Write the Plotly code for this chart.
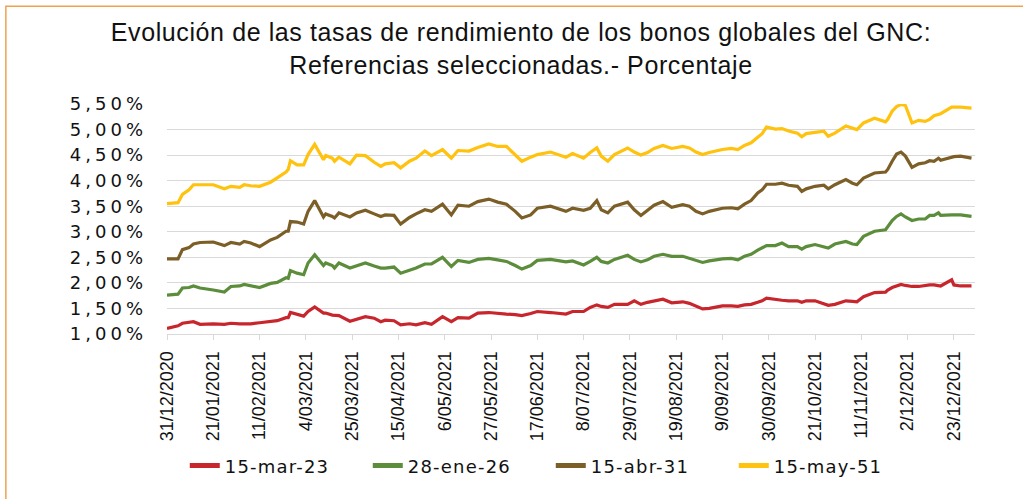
import pandas as pd
import plotly.graph_objects as go

dates = [
    "2020-12-31", "2021-01-05", "2021-01-07", "2021-01-10", "2021-01-12", "2021-01-15",
    "2021-01-21", "2021-01-26", "2021-01-29", "2021-02-02", "2021-02-04", "2021-02-07",
    "2021-02-11", "2021-02-16", "2021-02-19", "2021-02-23", "2021-02-24", "2021-02-25",
    "2021-02-28", "2021-03-03", "2021-03-05", "2021-03-08", "2021-03-12", "2021-03-13",
    "2021-03-16", "2021-03-17", "2021-03-19", "2021-03-24", "2021-03-27", "2021-03-31",
    "2021-04-04", "2021-04-07", "2021-04-09", "2021-04-13", "2021-04-16", "2021-04-20",
    "2021-04-23", "2021-04-27", "2021-04-30", "2021-05-05", "2021-05-09", "2021-05-12",
    "2021-05-17", "2021-05-21", "2021-05-26", "2021-05-30", "2021-06-03", "2021-06-07",
    "2021-06-10", "2021-06-14", "2021-06-17", "2021-06-23", "2021-06-30", "2021-07-03",
    "2021-07-08", "2021-07-11", "2021-07-14", "2021-07-16", "2021-07-19", "2021-07-22",
    "2021-07-28", "2021-07-31", "2021-08-03", "2021-08-06", "2021-08-09", "2021-08-13",
    "2021-08-17", "2021-08-22", "2021-08-25", "2021-08-28", "2021-08-31", "2021-09-03",
    "2021-09-09", "2021-09-13", "2021-09-16", "2021-09-19", "2021-09-22", "2021-09-25",
    "2021-09-27", "2021-09-29", "2021-10-03", "2021-10-06", "2021-10-09", "2021-10-13",
    "2021-10-15", "2021-10-17", "2021-10-21", "2021-10-25", "2021-10-27", "2021-10-30",
    "2021-11-04", "2021-11-07", "2021-11-09", "2021-11-12", "2021-11-17", "2021-11-22",
    "2021-11-23", "2021-11-25", "2021-11-27", "2021-11-29", "2021-12-01", "2021-12-04",
    "2021-12-07", "2021-12-10", "2021-12-12", "2021-12-14", "2021-12-16", "2021-12-17",
    "2021-12-22", "2021-12-23", "2021-12-26", "2021-12-31",
]

may51 = [
    3.55, 3.57, 3.73, 3.82, 3.92, 3.92, 3.92, 3.84, 3.89, 3.87, 3.92, 3.90,
    3.89, 3.97, 4.05, 4.17, 4.22, 4.39, 4.31, 4.31, 4.51, 4.71, 4.41, 4.49,
    4.44, 4.38, 4.46, 4.33, 4.50, 4.49, 4.36, 4.28, 4.33, 4.35, 4.25, 4.38,
    4.44, 4.58, 4.49, 4.61, 4.44, 4.59, 4.58, 4.65, 4.72, 4.67, 4.67, 4.51,
    4.38, 4.46, 4.51, 4.56, 4.46, 4.53, 4.44, 4.55, 4.64, 4.48, 4.38, 4.51,
    4.64, 4.56, 4.50, 4.55, 4.63, 4.69, 4.63, 4.67, 4.64, 4.56, 4.51, 4.55,
    4.61, 4.63, 4.61, 4.69, 4.74, 4.85, 4.92, 5.05, 5.01, 5.02, 4.97, 4.93,
    4.86, 4.92, 4.95, 4.97, 4.87, 4.93, 5.07, 5.03, 5.00, 5.13, 5.22, 5.15,
    5.20, 5.36, 5.45, 5.49, 5.47, 5.13, 5.18, 5.16, 5.20, 5.27, 5.29, 5.31,
    5.44, 5.44, 5.44, 5.42,
]

abr31 = [
    2.47, 2.47, 2.65, 2.69, 2.76, 2.79, 2.80, 2.73, 2.79, 2.76, 2.81, 2.78,
    2.71, 2.84, 2.89, 3.01, 3.01, 3.20, 3.19, 3.15, 3.40, 3.61, 3.29, 3.35,
    3.30, 3.27, 3.37, 3.29, 3.37, 3.42, 3.35, 3.30, 3.33, 3.32, 3.15, 3.28,
    3.35, 3.43, 3.40, 3.54, 3.33, 3.52, 3.50, 3.59, 3.64, 3.58, 3.54, 3.40,
    3.27, 3.33, 3.46, 3.50, 3.40, 3.46, 3.42, 3.46, 3.61, 3.43, 3.37, 3.50,
    3.58, 3.43, 3.32, 3.43, 3.52, 3.59, 3.48, 3.53, 3.50, 3.40, 3.35, 3.40,
    3.46, 3.47, 3.45, 3.54, 3.61, 3.76, 3.82, 3.93, 3.93, 3.95, 3.91, 3.89,
    3.79, 3.84, 3.89, 3.91, 3.84, 3.92, 4.02, 3.95, 3.92, 4.05, 4.15, 4.17,
    4.22, 4.38, 4.52, 4.56, 4.48, 4.26, 4.33, 4.35, 4.39, 4.38, 4.44, 4.40,
    4.46, 4.47, 4.48, 4.44,
]

ene26 = [
    1.76, 1.78, 1.90, 1.91, 1.94, 1.90, 1.86, 1.82, 1.93, 1.94, 1.97, 1.95,
    1.91, 1.99, 2.01, 2.10, 2.09, 2.24, 2.19, 2.16, 2.39, 2.55, 2.34, 2.39,
    2.34, 2.29, 2.39, 2.29, 2.33, 2.39, 2.33, 2.29, 2.29, 2.31, 2.19, 2.24,
    2.29, 2.37, 2.37, 2.50, 2.32, 2.44, 2.40, 2.46, 2.48, 2.45, 2.42, 2.34,
    2.27, 2.34, 2.44, 2.46, 2.41, 2.43, 2.35, 2.42, 2.50, 2.42, 2.39, 2.46,
    2.54, 2.46, 2.41, 2.45, 2.52, 2.56, 2.52, 2.52, 2.48, 2.43, 2.40, 2.43,
    2.47, 2.48, 2.45, 2.52, 2.56, 2.64, 2.69, 2.73, 2.73, 2.78, 2.71, 2.71,
    2.66, 2.71, 2.75, 2.71, 2.68, 2.76, 2.81, 2.76, 2.75, 2.91, 3.01, 3.04,
    3.10, 3.22, 3.30, 3.35, 3.29, 3.22, 3.25, 3.25, 3.32, 3.32, 3.37, 3.32,
    3.33, 3.33, 3.33, 3.30,
]

mar23 = [
    1.11, 1.16, 1.21, 1.22, 1.24, 1.19, 1.20, 1.19, 1.21, 1.20, 1.20, 1.20,
    1.22, 1.24, 1.26, 1.32, 1.32, 1.42, 1.39, 1.35, 1.44, 1.53, 1.41, 1.41,
    1.37, 1.37, 1.36, 1.25, 1.29, 1.34, 1.31, 1.24, 1.27, 1.26, 1.18, 1.20,
    1.18, 1.22, 1.19, 1.34, 1.24, 1.32, 1.31, 1.41, 1.42, 1.40, 1.39, 1.38,
    1.36, 1.40, 1.44, 1.42, 1.39, 1.44, 1.44, 1.52, 1.57, 1.54, 1.52, 1.58,
    1.58, 1.65, 1.58, 1.62, 1.65, 1.68, 1.61, 1.63, 1.60, 1.54, 1.49, 1.50,
    1.55, 1.55, 1.54, 1.57, 1.58, 1.62, 1.65, 1.70, 1.67, 1.66, 1.65, 1.65,
    1.62, 1.65, 1.65, 1.58, 1.56, 1.58, 1.65, 1.64, 1.63, 1.73, 1.81, 1.82,
    1.86, 1.91, 1.94, 1.97, 1.95, 1.93, 1.93, 1.95, 1.96, 1.96, 1.95, 1.94,
    2.06, 1.96, 1.94, 1.94,
]

series_names = ["15-mar-23", "28-ene-26", "15-abr-31", "15-may-51"]
series_colors = ["#C8262D", "#5B8D3B", "#7C5E27", "#FFC20E"]

x_tick_labels = [
    "31/12/2020", "21/01/2021", "11/02/2021", "4/03/2021", "25/03/2021", "15/04/2021",
    "6/05/2021", "27/05/2021", "17/06/2021", "8/07/2021", "29/07/2021", "19/08/2021",
    "9/09/2021", "30/09/2021", "21/10/2021", "11/11/2021", "2/12/2021", "23/12/2021",
]
y_tick_values = [1.0, 1.5, 2.0, 2.5, 3.0, 3.5, 4.0, 4.5, 5.0, 5.5]
y_tick_labels = ["1,00%", "1,50%", "2,00%", "2,50%", "3,00%", "3,50%", "4,00%", "4,50%", "5,00%", "5,50%"]

title_lines = [
    "Evolución de las tasas de rendimiento de los bonos globales del GNC:",
    "Referencias seleccionadas.- Porcentaje",
]

x_dates = pd.to_datetime(dates)
x_tick_vals = pd.to_datetime(x_tick_labels, format="%d/%m/%Y")


def spaced(text, px):
    return f"<span style='letter-spacing:{px}px'>{text}</span>"


fig = go.Figure()
for name, color, vals in zip(series_names, series_colors, [mar23, ene26, abr31, may51]):
    fig.add_trace(go.Scatter(
        x=x_dates, y=vals, mode="lines", name=spaced(name, 1.2),
        line=dict(color=color, width=3.2),
    ))

W, H = 1023, 499
L, R, T, B = 166.7, 48, 104.3, 164.7

fig.update_layout(
    width=W, height=H,
    margin=dict(l=L, r=R, t=T, b=B, pad=0),
    paper_bgcolor="white", plot_bgcolor="white",
    font=dict(family="Liberation Sans, Arial, sans-serif", color="#111111"),
    title=dict(
        text="<br>".join(spaced(t, 0.6) for t in title_lines),
        x=521 / W, xref="container", xanchor="center",
        y=1 - 41 / H, yref="container", yanchor="middle",
        font=dict(size=25, family="Liberation Sans, Arial, sans-serif", color="#111111"),
    ),
    showlegend=True,
    legend=dict(
        orientation="h", x=0.022, xanchor="left", xref="paper",
        y=-0.573, yanchor="middle",
        font=dict(size=18, family="DejaVu Sans, sans-serif", color="#111111"),
        entrywidth=138, entrywidthmode="pixels",
        bgcolor="rgba(0,0,0,0)", itemsizing="constant",
    ),
    xaxis=dict(
        type="date",
        range=["2020-12-31", "2022-01-01 14:00"],
        tickmode="array", tickvals=x_tick_vals, ticktext=x_tick_labels,
        tickangle=-90,
        tickfont=dict(size=18, family="Liberation Sans, Arial, sans-serif", color="#111111"),
        showgrid=False, showline=True, linecolor="#D9D9D9", linewidth=1,
        ticks="outside", ticklen=5, tickcolor="#D9D9D9",
        ticklabelstandoff=4,
        zeroline=False,
    ),
    yaxis=dict(
        range=[1.0, 5.5],
        tickmode="array", tickvals=y_tick_values,
        ticktext=[spaced(t, 4) for t in y_tick_labels],
        tickfont=dict(size=18, family="DejaVu Sans, sans-serif", color="#111111"),
        showgrid=True, gridcolor="#D9D9D9", gridwidth=1,
        showline=False, zeroline=False, ticks="",
        ticklabelstandoff=19,
    ),
)

# outer frame of the chart area (orange border)
px_to_paper_x = lambda px: (px - L) / (W - L - R)
px_to_paper_y = lambda py: (H - B - py) / (H - T - B)
fig.add_shape(
    type="rect", xref="paper", yref="paper",
    x0=px_to_paper_x(5.5), x1=px_to_paper_x(W + 20),
    y0=px_to_paper_y(H + 20), y1=px_to_paper_y(6.5),
    line=dict(color="#F0A150", width=1.5), fillcolor="rgba(0,0,0,0)", layer="below",
)

fig.write_html(
    "out.html",
    config={"displayModeBar": False},
    post_script="document.body.style.margin='0px';document.body.style.overflow='hidden';",
)
